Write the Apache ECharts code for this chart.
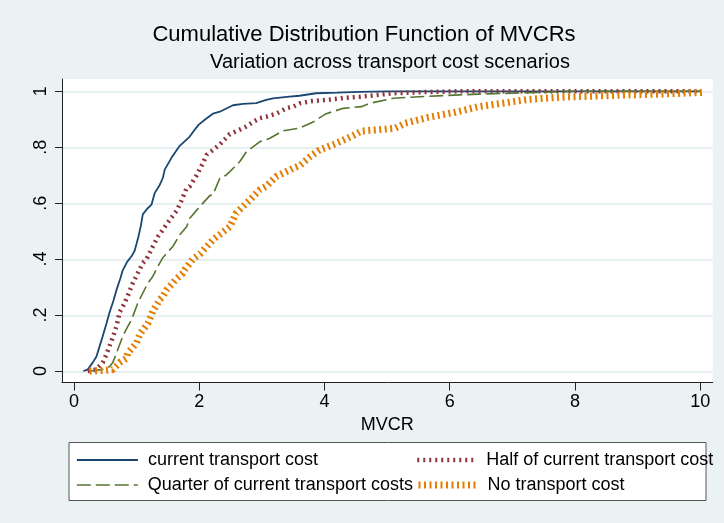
<!DOCTYPE html>
<html>
<head>
<meta charset="utf-8">
<script src="https://cdn.jsdelivr.net/npm/echarts@6/dist/echarts.min.js"></script>
<style>
  html, body { margin: 0; padding: 0; background: #eaf2f3; }
  #chart { width: 724px; height: 523px; }
</style>
</head>
<body>
<div id="chart"></div>
<script>
// values
const currentX = [0.15, 0.22, 0.30, 0.36, 0.41, 0.46, 0.52, 0.57, 0.63, 0.68, 0.74, 0.78, 0.85, 0.92, 0.97, 1.03, 1.07, 1.10, 1.17, 1.24, 1.29, 1.37, 1.42, 1.45, 1.56, 1.69, 1.85, 1.92, 1.99, 2.10, 2.22, 2.33, 2.45, 2.54, 2.70, 2.91, 3.07, 3.18, 3.40, 3.60, 3.87, 4.20, 4.56, 5.00, 10.0];
const currentY = [0, 0.005, 0.03, 0.052, 0.088, 0.124, 0.17, 0.21, 0.25, 0.29, 0.33, 0.36, 0.39, 0.41, 0.43, 0.48, 0.52, 0.56, 0.58, 0.595, 0.636, 0.665, 0.69, 0.72, 0.763, 0.805, 0.838, 0.86, 0.88, 0.90, 0.92, 0.927, 0.94, 0.95, 0.955, 0.958, 0.969, 0.975, 0.98, 0.984, 0.993, 0.995, 0.998, 1.0, 1.0];

const halfX = [0.22, 0.35, 0.46, 0.52, 0.57, 0.62, 0.68, 0.73, 0.81, 0.88, 0.94, 1.02, 1.10, 1.16, 1.26, 1.34, 1.42, 1.53, 1.64, 1.72, 1.80, 1.85, 1.96, 2.06, 2.12, 2.22, 2.33, 2.49, 2.62, 2.75, 2.86, 2.97, 3.07, 3.23, 3.40, 3.50, 3.61, 3.80, 4.03, 4.30, 4.56, 5.10, 5.60, 6.16, 10.0];
const halfY = [0, 0.005, 0.03, 0.06, 0.09, 0.12, 0.16, 0.21, 0.243, 0.28, 0.314, 0.35, 0.386, 0.40, 0.445, 0.48, 0.505, 0.54, 0.573, 0.61, 0.654, 0.66, 0.70, 0.743, 0.773, 0.79, 0.81, 0.847, 0.86, 0.874, 0.89, 0.904, 0.909, 0.92, 0.94, 0.945, 0.957, 0.965, 0.969, 0.976, 0.98, 0.993, 0.997, 1.0, 1.0];

const quarterX = [0.25, 0.45, 0.57, 0.62, 0.68, 0.78, 0.85, 0.92, 1.02, 1.05, 1.18, 1.26, 1.34, 1.42, 1.53, 1.58, 1.69, 1.80, 1.85, 2.02, 2.17, 2.22, 2.33, 2.43, 2.49, 2.59, 2.65, 2.75, 2.97, 3.13, 3.34, 3.60, 3.82, 3.92, 4.03, 4.30, 4.59, 4.72, 5.10, 5.63, 6.16, 6.46, 7.26, 8.00, 10.0];
const quarterY = [0, 0.005, 0.016, 0.03, 0.064, 0.124, 0.155, 0.183, 0.243, 0.25, 0.314, 0.338, 0.374, 0.405, 0.433, 0.445, 0.487, 0.516, 0.546, 0.59, 0.627, 0.63, 0.689, 0.70, 0.713, 0.735, 0.749, 0.782, 0.82, 0.832, 0.859, 0.868, 0.89, 0.905, 0.92, 0.939, 0.945, 0.957, 0.975, 0.982, 0.987, 0.99, 0.995, 1.0, 1.0];

const noneX = [0.25, 0.50, 0.62, 0.73, 0.84, 0.86, 1.00, 1.05, 1.08, 1.18, 1.26, 1.37, 1.42, 1.48, 1.64, 1.74, 1.77, 1.90, 2.02, 2.22, 2.49, 2.59, 2.81, 2.97, 3.07, 3.23, 3.50, 3.61, 3.77, 3.92, 4.19, 4.46, 4.59, 4.83, 5.13, 5.29, 5.66, 6.09, 6.46, 6.83, 7.26, 7.79, 8.32, 8.86, 9.39, 9.92, 10.03];
const noneY = [0, 0.002, 0.005, 0.03, 0.045, 0.064, 0.10, 0.13, 0.14, 0.17, 0.213, 0.255, 0.266, 0.29, 0.33, 0.35, 0.362, 0.40, 0.42, 0.469, 0.516, 0.564, 0.612, 0.648, 0.66, 0.695, 0.725, 0.735, 0.766, 0.79, 0.814, 0.842, 0.858, 0.862, 0.868, 0.886, 0.907, 0.925, 0.945, 0.957, 0.971, 0.979, 0.983, 0.987, 0.99, 0.995, 0.996];

const seriesNames = ["current transport cost", "Half of current transport cost", "Quarter of current transport costs", "No transport cost"];
const xTicks = [0, 2, 4, 6, 8, 10];
const xTickLabels = ["0", "2", "4", "6", "8", "10"];
const yTicks = [0, 0.2, 0.4, 0.6, 0.8, 1];
const yTickLabels = ["0", ".2", ".4", ".6", ".8", "1"];

const FONT = "'Liberation Sans', Arial, sans-serif";

// line looks, shared by series and legend
const styleCurrent = { color: "#1a476f", width: 1.8, type: "solid" };
const styleHalf = { color: "#90353b", width: 4.5, type: [2, 4] };
const styleQuarter = { color: "#55752f", width: 1.6, type: [14, 5] };
const styleNone = { color: "#e37e00", width: 7, type: [2, 3.5] };

const zip = (xs, ys) => xs.map((x, i) => [x, ys[i]]);

const chart = echarts.init(document.getElementById("chart"), null, { renderer: "canvas" });

const lineSeries = (name, xs, ys, lineStyle) => ({
  name: name,
  type: "line",
  xAxisIndex: 0,
  yAxisIndex: 0,
  showSymbol: false,
  symbol: "none",
  data: zip(xs, ys),
  lineStyle: lineStyle,
  itemStyle: { color: lineStyle.color },
  z: 3
});

const legendItem = (name, left, top, width, lineStyle) => ({
  data: [name],
  left: left,
  top: top,
  padding: 0,
  itemWidth: width,
  itemHeight: 14,
  selectedMode: false,
  itemStyle: { opacity: 0 },
  lineStyle: Object.assign({ opacity: 1 }, lineStyle),
  textStyle: { fontFamily: FONT, fontSize: 18, color: "#000", padding: [0, 0, 0, 5] }
});

const option = {
  backgroundColor: "#eaf2f3",
  animation: false,
  title: [
    {
      text: "Cumulative Distribution Function of MVCRs",
      left: 359,
      top: 19,
      textAlign: "center",
      textStyle: { fontFamily: FONT, fontSize: 22, fontWeight: "normal", color: "#000" }
    },
    {
      text: "Variation across transport cost scenarios",
      left: 385,
      top: 47,
      textAlign: "center",
      textStyle: { fontFamily: FONT, fontSize: 20, fontWeight: "normal", color: "#000" }
    }
  ],
  grid: [
    // plot region with axes
    { left: 62, right: 11.3, top: 79, bottom: 140.5, show: true, backgroundColor: "#fff", borderWidth: 0 },
    // same width, 0..1 span, only for the horizontal grid lines
    { left: 62, right: 11.3, top: 91.3, bottom: 151.7, show: false }
  ],
  xAxis: [
    {
      type: "value",
      gridIndex: 0,
      min: -0.19,
      max: 10.2,
      name: "MVCR",
      nameLocation: "middle",
      nameGap: 30,
      nameTextStyle: { fontFamily: FONT, fontSize: 18, color: "#000" },
      axisLine: { onZero: false, lineStyle: { color: "#222", width: 1 } },
      axisTick: { customValues: xTicks, length: 8, lineStyle: { color: "#222" } },
      axisLabel: {
        customValues: xTicks,
        margin: 11,
        fontFamily: FONT,
        fontSize: 18,
        color: "#000",
        formatter: (v) => xTickLabels[xTicks.indexOf(v)]
      },
      splitLine: { show: false }
    },
    { type: "value", gridIndex: 1, min: 0, max: 10, show: false }
  ],
  yAxis: [
    {
      type: "value",
      gridIndex: 0,
      min: -0.0411,
      max: 1.0439,
      axisLine: { show: true, onZero: false, lineStyle: { color: "#222", width: 1 } },
      axisTick: { show: true, customValues: yTicks, length: 7, lineStyle: { color: "#222" } },
      axisLabel: {
        customValues: yTicks,
        rotate: 90,
        margin: 12,
        fontFamily: FONT,
        fontSize: 18,
        color: "#000",
        formatter: (v) => yTickLabels[yTicks.indexOf(v)]
      },
      splitLine: { show: false }
    },
    {
      type: "value",
      gridIndex: 1,
      min: 0,
      max: 1,
      interval: 0.2,
      axisLine: { show: false },
      axisTick: { show: false },
      axisLabel: { show: false },
      splitLine: { show: true, lineStyle: { color: "#e1eaee", width: 1.5 } }
    }
  ],
  legend: [
    legendItem(seriesNames[0], 76, 451, 61, styleCurrent),
    legendItem(seriesNames[1], 415, 451, 59, styleHalf),
    legendItem(seriesNames[2], 76, 476, 61, styleQuarter),
    legendItem(seriesNames[3], 415, 476, 59, styleNone)
  ],
  graphic: [
    {
      type: "rect",
      left: 68.5,
      top: 442,
      shape: { width: 637, height: 58 },
      style: { fill: "#fff", stroke: "#555", lineWidth: 1 },
      z: -1
    }
  ],
  series: [
    lineSeries(seriesNames[0], currentX, currentY, styleCurrent),
    lineSeries(seriesNames[1], halfX, halfY, styleHalf),
    lineSeries(seriesNames[2], quarterX, quarterY, styleQuarter),
    lineSeries(seriesNames[3], noneX, noneY, styleNone)
  ]
};

chart.setOption(option);
</script>
</body>
</html>
